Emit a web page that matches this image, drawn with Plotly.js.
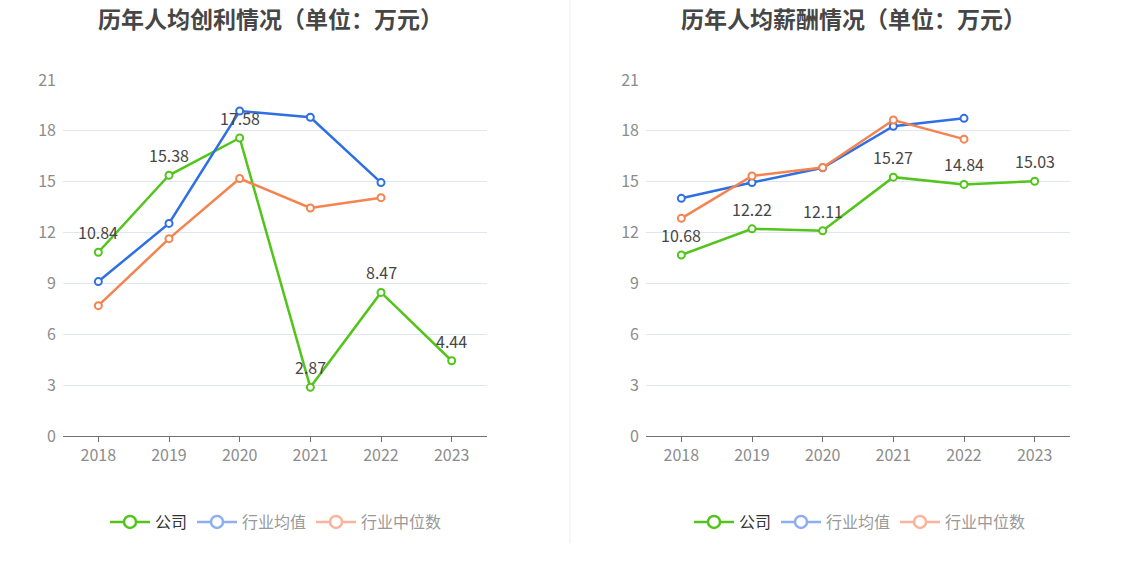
<!DOCTYPE html>
<html><head><meta charset="utf-8">
<script src="https://cdn.plot.ly/plotly-3.0.1.min.js"></script>
<style>html,body{margin:0;padding:0;background:#fff;}#c{width:1134px;height:582px;}</style>
</head><body><div id="c"></div>
<script>
const years = ['2018','2019','2020','2021','2022','2023'];
const yearsInd = ['2018','2019','2020','2021','2022'];
// 人均创利
const profitCompany = [10.84, 15.38, 17.58, 2.87, 8.47, 4.44];
const profitAvg = [9.11, 12.54, 19.17, 18.80, 14.95];
const profitMedian = [7.69, 11.64, 15.19, 13.45, 14.06];
// 人均薪酬
const salaryCompany = [10.68, 12.22, 12.11, 15.27, 14.84, 15.03];
const salaryAvg = [14.02, 14.95, 15.82, 18.27, 18.74];
const salaryMedian = [12.84, 15.34, 15.84, 18.64, 17.51];
const names = ['公司', '行业均值', '行业中位数'];
const titles = ['历年人均创利情况（单位：万元）', '历年人均薪酬情况（单位：万元）'];
const yTicks = [0, 3, 6, 9, 12, 15, 18, 21];

const GREEN = '#52C41A', BLUE = '#2F6FE4', ORANGE = '#F5834F';
const LBLUE = '#8DAEF3', LORANGE = '#FBB49A';
const FONT = '"Noto Sans CJK SC", "Microsoft YaHei", sans-serif';

function series(x, y, color, xa, ya) {
  return {
    x: x, y: y, xaxis: xa, yaxis: ya, type: 'scatter', mode: 'lines+markers',
    line: {color: color, width: 2.5},
    marker: {symbol: 'circle', size: 7, color: '#fff', line: {color: color, width: 2}},
    showlegend: false, hoverinfo: 'x+y', cliponaxis: false
  };
}
// value labels: x is the category index of each year on the category axis
function labels(x, y, xa, ya) {
  return y.map((v, i) => ({
    text: v.toFixed(2), x: years.indexOf(x[i]), y: v, xref: xa, yref: ya, showarrow: false,
    xanchor: 'center', yanchor: 'middle', yshift: 20,
    font: {size: 16, color: '#464646', family: FONT}
  }));
}
function legendItem(name, color, leg) {
  return {
    x: [null], y: [null], type: 'scatter', mode: 'lines+markers', name: name, legend: leg,
    line: {color: color, width: 2.5},
    marker: {symbol: 'circle', size: 12, color: '#fff', line: {color: color, width: 2.5}},
    showlegend: true, hoverinfo: 'skip'
  };
}

const data = [
  series(years, profitCompany, GREEN, 'x', 'y'),
  series(yearsInd, profitAvg, BLUE, 'x', 'y'),
  series(yearsInd, profitMedian, ORANGE, 'x', 'y'),
  series(years, salaryCompany, GREEN, 'x2', 'y2'),
  series(yearsInd, salaryAvg, BLUE, 'x2', 'y2'),
  series(yearsInd, salaryMedian, ORANGE, 'x2', 'y2'),
];
['legend', 'legend2'].forEach(lg => {
  data.push(legendItem('<span style="color:#333">' + names[0] + '</span>', GREEN, lg));
  data.push(legendItem(names[1], LBLUE, lg));
  data.push(legendItem(names[2], LORANGE, lg));
});

const W = 1134, H = 582;
function xaxis(d0, d1, anchor) {
  return {
    domain: [d0 / W, d1 / W], anchor: anchor, type: 'category', categoryarray: years,
    range: [-0.5, 5.5], showgrid: false, showline: true, linecolor: '#6E7079', linewidth: 1,
    ticks: 'outside', ticklen: 5, tickcolor: '#6E7079', tickfont: {size: 16, color: '#8c8c8c', family: FONT},
    zeroline: false, fixedrange: true
  };
}
function yaxis(anchor) {
  return {
    domain: [(H - 436) / H, (H - 80) / H], anchor: anchor, range: [0, 21], tickvals: yTicks,
    showgrid: true, gridcolor: '#E0E6F1', gridwidth: 1, zeroline: false, showline: false,
    ticks: '', tickfont: {size: 16, color: '#8c8c8c', family: FONT}, ticklabelstandoff: 6, fixedrange: true
  };
}
const legBase = {orientation: 'h', xanchor: 'center', yanchor: 'middle', y: (H - 522) / H,
  font: {size: 16, color: '#999', family: FONT}, itemwidth: 40, tracegroupgap: 0, bgcolor: 'rgba(0,0,0,0)'};

const annotations = [
  {text: '<b>' + titles[0] + '</b>', xref: 'paper', yref: 'paper', x: 270 / W, y: (H - 18) / H, xanchor: 'center', yanchor: 'middle', showarrow: false, font: {size: 23, color: '#464646', family: FONT}},
  {text: '<b>' + titles[1] + '</b>', xref: 'paper', yref: 'paper', x: 853 / W, y: (H - 18) / H, xanchor: 'center', yanchor: 'middle', showarrow: false, font: {size: 23, color: '#464646', family: FONT}}
].concat(labels(years, profitCompany, 'x', 'y'), labels(years, salaryCompany, 'x2', 'y2'));

const layout = {
  width: W, height: H, margin: {l: 0, r: 0, t: 0, b: 0}, paper_bgcolor: '#fff', plot_bgcolor: '#fff',
  font: {family: FONT},
  xaxis: xaxis(63, 487, 'y'), yaxis: yaxis('x'),
  xaxis2: xaxis(646, 1070, 'y2'), yaxis2: yaxis('x2'),
  legend: Object.assign({}, legBase, {x: 276 / W}),
  legend2: Object.assign({}, legBase, {x: 860 / W}),
  annotations: annotations,
  shapes: [{type: 'line', xref: 'paper', yref: 'paper', x0: 570 / W, x1: 570 / W, y0: (H - 543) / H, y1: 1, line: {color: '#EEEEEE', width: 1}}]
};
Plotly.newPlot('c', data, layout, {displayModeBar: false, staticPlot: true});
</script></body></html>
